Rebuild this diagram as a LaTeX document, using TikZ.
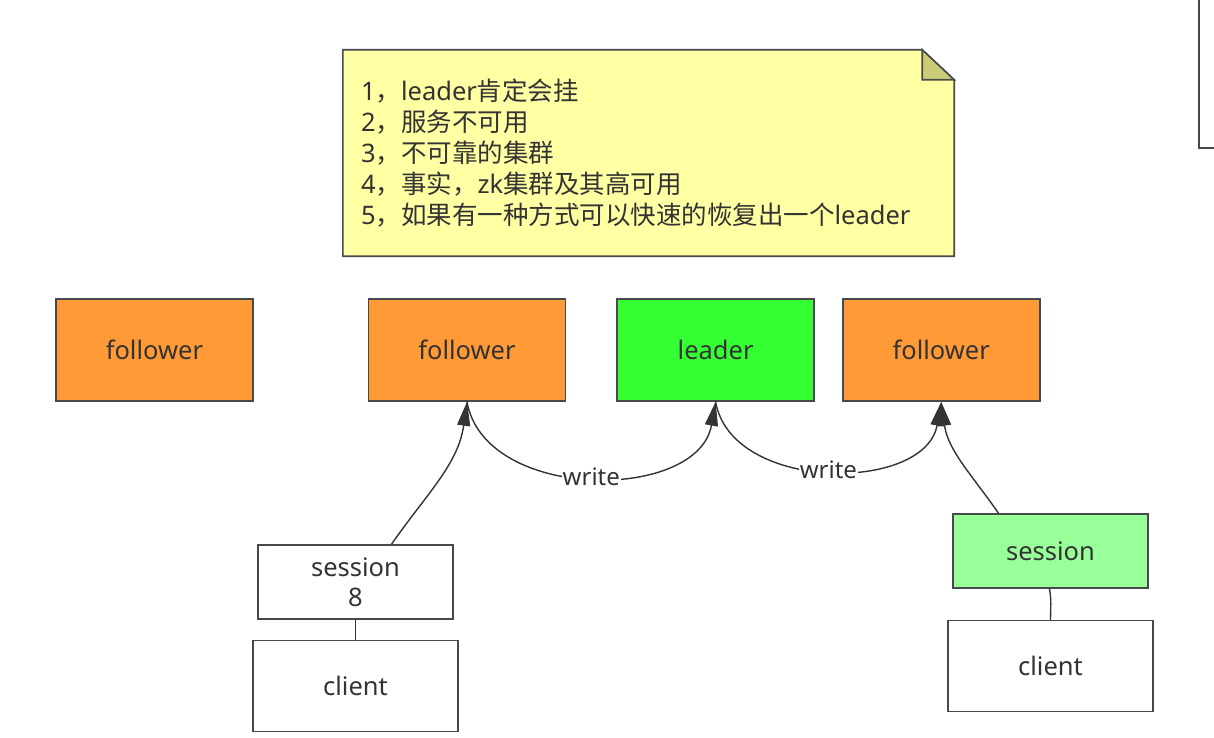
\documentclass[tikz,border=0pt]{standalone}
\usepackage{fontspec}
\setmainfont{Noto Sans}
\newfontfamily\cjk{Noto Sans CJK SC}
\usetikzlibrary{positioning,arrows.meta,backgrounds}
\definecolor{followerOrange}{HTML}{FF9A36}
\definecolor{leaderGreen}{HTML}{33FF33}
\definecolor{sessionGreen}{HTML}{99FF99}
\definecolor{noteYellow}{HTML}{FFFFA3}
\definecolor{noteFold}{HTML}{CCCC78}
\definecolor{boxLine}{HTML}{454A4F}
\definecolor{lineGray}{HTML}{333333}
\definecolor{textGray}{HTML}{333333}
\tikzset{
  box/.style={rectangle, draw=boxLine, line width=1.6pt, fill=white, text=textGray,
    minimum width=197pt, minimum height=102pt, font=\fontsize{25.5}{30}\selectfont},
  follower/.style={box, fill=followerOrange},
  leaderNode/.style={box, fill=leaderGreen},
  session/.style={box, minimum width=195pt, minimum height=74pt, align=center},
  client/.style={box, minimum width=205pt, minimum height=91pt},
  note/.style={rectangle, text=textGray, text width=575pt, inner xsep=18pt,
    minimum height=206pt, align=left, font=\fontsize{25.5}{31}\selectfont},
  applyOp/.style={-{Triangle[length=24pt,width=13pt]}, draw=lineGray, line width=1.4pt},
  link/.style={draw=lineGray, line width=1.4pt},
  writeLabel/.style={fill=white, inner sep=1pt, text=textGray, font=\fontsize{24}{28}\selectfont}
}
\begin{document}
\begin{tikzpicture}[x=1pt, y=-1pt]
  \useasboundingbox (0,0) rectangle (1214,738);
  % note
  \node [note] (note) at (648.5,153) {1{\cjk ，}leader{\cjk 肯定会挂}\\2{\cjk ，服务不可用}\\3{\cjk ，不可靠的集群}\\4{\cjk ，事实，}zk{\cjk 集群及其高可用}\\5{\cjk ，如果有一种方式可以快速的恢复出一个}leader};
  \begin{scope}[on background layer]
    \draw [draw=boxLine, line width=1.6pt, fill=noteYellow, line join=miter]
      (note.north west) -- ([xshift=-32pt]note.north east) -- ([yshift=-30pt]note.north east)
      -- (note.south east) -- (note.south west) -- cycle;
    \draw [draw=boxLine, line width=1.6pt, fill=noteFold]
      ([xshift=-32pt]note.north east) -- ([xshift=-32pt,yshift=-30pt]note.north east)
      -- ([yshift=-30pt]note.north east) -- cycle;
  \end{scope}
  % servers
  \node [follower] (follower2) at (467,350) {follower};
  \node [follower, left=114pt of follower2] (follower1) {follower};
  \node [leaderNode, right=50pt of follower2] (leader) {leader};
  \node [follower, right=27pt of leader] (follower3) {follower};
  % clients
  \node [session] (session1) at (355.5,582) {session\\8};
  \node [client, below=20pt of session1] (client1) {client};
  \node [session, fill=sessionGreen] (session2) at (1050.5,551) {session};
  \node [client, below=31pt of session2] (client2) {client};
  % connectors
  \draw [applyOp] ([xshift=36pt]session1.north) to[out=55, in=-98] (follower2.south);
  \draw [applyOp] (follower2.south) to[out=-80, in=-100, looseness=1.05]
    node [writeLabel, pos=0.5] {write} (leader.south);
  \draw [applyOp] (leader.south) to[out=-80, in=-100, looseness=1.05]
    node [writeLabel, pos=0.5] {write} (follower3.south);
  \draw [applyOp] ([xshift=-52pt]session2.north) to[out=125, in=-82] (follower3.south);
  \draw [link] (session1.south) -- (client1.north);
  \draw [link] ([xshift=-1pt]session2.south) to[out=-80, in=90] (client2.north);
  % edge of another shape
  \draw [draw=boxLine, line width=1.6pt] (1199,-5) -- (1199,148) -- (1220,148);
\end{tikzpicture}
\end{document}
